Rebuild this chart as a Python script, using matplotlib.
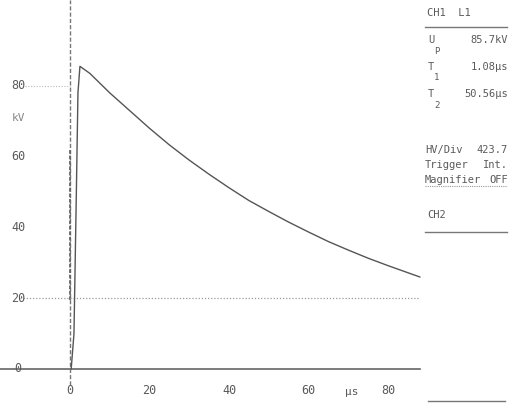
import matplotlib
matplotlib.use("Agg")
import matplotlib.pyplot as plt

# ---- data ----
t_us = [0.3, 1.0, 1.6, 2.0, 2.5, 5, 10, 15, 20, 25, 30, 35, 40, 45, 50,
        55, 60, 65, 70, 75, 80, 85, 88]
u_kv = [0, 10, 50, 78, 85.5, 83.5, 78, 73, 68, 63.3, 59, 55, 51.2, 47.6,
        44.5, 41.5, 38.7, 36, 33.6, 31.3, 29.2, 27.2, 26]
y_ticks = [0, 20, 40, 60, 80]
x_ticks = [0, 20, 40, 60, 80]
x_unit = "µs"
y_unit = "kV"
header = "CH1  L1"
params = [("U", "P", "85.7kV"), ("T", "1", "1.08µs"), ("T", "2", "50.56µs")]
settings = [("HV/Div", "423.7"), ("Trigger", "Int."), ("Magnifier", "OFF")]
ch2 = "CH2"

W, H = 513, 408
fig = plt.figure(figsize=(W / 100, H / 100), dpi=100)
ax = fig.add_axes([0, 0, 1, 1])
# pixel mapping: x = 70 + 3.975 t ; y = 369 - 3.54 u
sx, x0 = 3.975, 70
sy, y0 = 3.54, 369
ax.set_xlim((0 - x0) / sx, (W - x0) / sx)
ax.set_ylim((y0 - H) / sy, y0 / sy)
ax.axis("off")

ink = "#5a5a5a"
mono = "DejaVu Sans Mono"

def px(x):
    return (x - x0) / sx

def py(y):
    return (y0 - y) / sy

# axes lines
ax.plot([px(0), px(420)], [0, 0], color="#666666", lw=1.2)
ax.plot([0, 0], [py(385), py(0)], color="#777777", lw=1.0, ls=(0, (3, 1.5)))
ax.plot([0, 0], [py(300), py(150)], color="#666666", lw=1.3, ls=(0, (2, 1)))
# dotted reference lines
ax.plot([px(20), px(420)], [20, 20], color="#999999", lw=0.9, ls=(0, (1, 1.5)))
ax.plot([px(25), 0], [80, 80], color="#bbbbbb", lw=0.8, ls=(0, (1, 1.5)))

# waveform
ax.plot(t_us, u_kv, color="#555555", lw=1.0)

# tick labels
for v in y_ticks:
    ax.text(px(18), v, str(v), ha="center", va="center", fontsize=8.5,
            color=ink, family=mono)
ax.text(px(18), py(118), y_unit, ha="center", va="center", fontsize=8,
        color="#888888", family=mono)
for v in x_ticks:
    ax.text(v, py(391), str(v), ha="center", va="center", fontsize=8.5,
            color=ink, family=mono)
ax.text(px(352), py(392), x_unit, ha="center", va="center", fontsize=8,
        color=ink, family=mono)

# right panel (figure pixel coordinates)
def ftext(x, y, s, ha="left", fs=7.5, col=ink):
    fig.text(x / W, 1 - y / H, s, ha=ha, va="center", fontsize=fs,
             color=col, family=mono)

def fline(xa, xb, y, ls="-", col="#777777", lw=1.0):
    fig.add_artist(plt.Line2D([xa / W, xb / W], [1 - y / H, 1 - y / H],
                              color=col, lw=lw, ls=ls))

ftext(427, 13, header)
fline(425, 507, 27)
ys = [40, 67, 94]
for (sym, sub, val), y in zip(params, ys):
    ftext(428, y, sym)
    ftext(434, y + 11, sub, fs=6.5)
    ftext(508, y, val, ha="right")
sy2 = [150, 165, 180]
for (k, v), y in zip(settings, sy2):
    ftext(425, y, k)
    ftext(508, y, v, ha="right")
fline(425, 507, 186, ls=(0, (1, 1)), col="#999999", lw=0.8)
ftext(427, 215, ch2)
fline(425, 507, 232)
fline(428, 505, 401)

fig.savefig("out.png", dpi=100)
